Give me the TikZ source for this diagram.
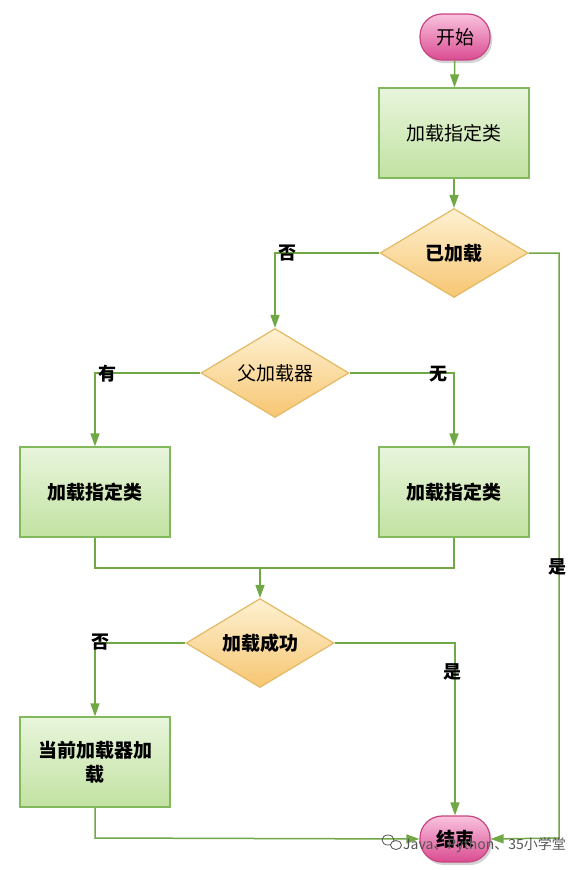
\documentclass[tikz,border=0pt]{standalone}
\usepackage{fontspec}
\setmainfont{Noto Sans CJK SC}
\usetikzlibrary{arrows.meta,shapes.geometric,shadows}
\pgfdeclarelayer{fg}
\pgfsetlayers{main,fg}
\definecolor{lineg}{HTML}{71A846}
\definecolor{boxborder}{HTML}{82B95C}
\definecolor{boxtop}{HTML}{E8F5DC}
\definecolor{boxbot}{HTML}{C2E2A2}
\definecolor{dborder}{HTML}{E3B964}
\definecolor{dtop}{HTML}{FEF1D2}
\definecolor{dbot}{HTML}{F7C672}
\definecolor{pborder}{HTML}{C8457F}
\definecolor{ptop}{HTML}{F9C3DE}
\definecolor{pbot}{HTML}{DA4C92}
\definecolor{wmgray}{HTML}{555555}
\tikzset{
  x=1pt, y=-1pt,
  every node/.style={font=\fontsize{19}{24}\selectfont},
  conn/.style={draw=lineg, line width=1.5pt, -{Triangle[length=13pt,width=9pt]}},
  plain/.style={draw=lineg, line width=1.5pt},
  procbox/.style={rectangle, draw=boxborder, line width=1.2pt, top color=boxtop, bottom color=boxbot, minimum width=150pt, minimum height=90pt, align=center, text width=128pt},
  decision/.style={diamond, draw=dborder, line width=1.2pt, top color=dtop, bottom color=dbot, minimum width=148pt, minimum height=89pt, inner sep=0pt, aspect=1.66},
  terminal/.style={rectangle, rounded corners=22pt, draw=pborder, line width=1.2pt, top color=ptop, bottom color=pbot, minimum width=70pt, minimum height=46pt, drop shadow={shadow xshift=2pt, shadow yshift=-3pt, opacity=0.35}},
  lbl/.style={font=\fontsize{18}{21}\selectfont\bfseries}
}
\begin{document}
\begin{tikzpicture}
\useasboundingbox (0,0) rectangle (584,870);
\node[terminal] (start) at (455,37) {开始};
\node[procbox] (b1) at (454,133) {加载指定类};
\node[decision] (d1) at (454,253) {\bfseries 已加载};
\node[decision] (d2) at (275,373) {父加载器};
\node[procbox] (b2) at (95,492) {\bfseries 加载指定类};
\node[procbox] (b3) at (454,492) {\bfseries 加载指定类};
\node[decision] (d3) at (260,643) {\bfseries 加载成功};
\node[procbox] (b4) at (95,762) {\bfseries 当前加载器加\\\bfseries 载};
\node[terminal] (end) at (455,839) {\bfseries 结束};

\coordinate (rt) at (559,253);
\coordinate (rb) at (559,838);
\coordinate (m2) at (95,568);
\coordinate (m3) at (454,568);
\coordinate (mid) at (260,568);
\coordinate (lb) at (95,838);

\draw[conn] (start) -- (b1);
\draw[conn] (b1) -- (d1);
\draw[conn] (d1.west) -| (d2.north);
\draw[conn] (d1.east) -- (rt) -- (rb) -- (end.east);
\draw[conn] (d2.west) -| (b2.north);
\draw[conn] (d2.east) -| (b3.north);
\draw[plain] (b2.south) -- (m2) -- (m3) -- (b3.south);
\draw[conn] (mid) -- (d3.north);
\draw[conn] (d3.west) -| (b4.north);
\draw[conn] (d3.east) -| (end.north);
\draw[conn] (b4.south) -- (lb) -- (end.west);

\node[lbl] (l1) at (287,253) {否};
\node[lbl] (l2) at (557,567) {是};
\node[lbl] (l3) at (107,374) {有};
\node[lbl] (l4) at (438,374) {无};
\node[lbl] (l5) at (100,642) {否};
\node[lbl] (l6) at (452,672) {是};

% watermark
\begin{pgfonlayer}{fg}
\draw[wmgray, line width=0.8pt] (388,840) ellipse (6pt and 5pt);
\draw[wmgray, line width=0.8pt, fill=white] (396,845) ellipse (5.5pt and 4.5pt);
\node[font=\fontsize{14}{16}\selectfont, text=wmgray, anchor=west, inner sep=0pt] (wm) at (403,845) {Java、Python、35小学堂};
\end{pgfonlayer}
\end{tikzpicture}
\end{document}
